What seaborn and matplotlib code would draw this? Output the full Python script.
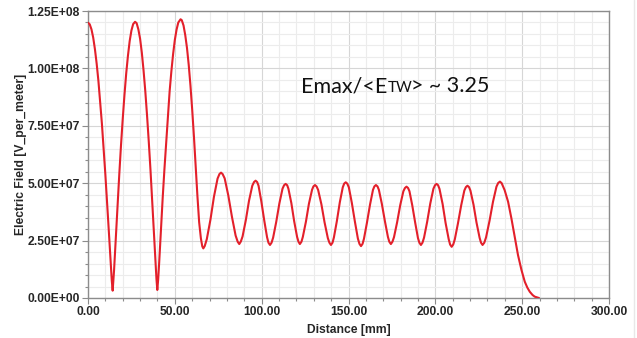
import numpy as np
import pandas as pd
import matplotlib
matplotlib.use("Agg")
import matplotlib.pyplot as plt
import seaborn as sns
from matplotlib.ticker import MultipleLocator, FuncFormatter
from matplotlib.transforms import offset_copy
from matplotlib.lines import Line2D

# Distance [mm] and |E| [1e6 V/m]
distance_mm = [
    0.0, 1.0, 2.0, 3.0, 4.0, 5.0, 6.0, 7.0, 8.0, 9.0, 10.0, 11.0, 12.0, 13.0, 13.7, 14.2, 14.7, 15.0,
    16.0, 17.0, 18.0, 19.0, 20.0, 21.0, 22.0, 23.0, 24.0, 25.0, 26.0, 27.1, 28.0, 29.0, 30.0, 31.0,
    32.0, 33.0, 34.0, 35.0, 36.0, 37.0, 38.0, 39.0, 39.4, 39.9, 40.4, 41.0, 42.0, 43.0, 44.0, 45.0,
    46.0, 47.0, 48.0, 49.0, 50.0, 51.0, 52.0, 53.3, 54.0, 55.0, 56.0, 57.0, 58.0, 59.0, 60.0, 61.0,
    62.0, 63.0, 64.0, 65.0, 65.8, 66.4, 67.2,
    68.4, 70.5, 72.5, 74.6, 75.7, 76.6, 77.5, 78.7, 80.8, 82.9, 85.0, 86.2, 87.1, 88.0,
    89.0, 90.9, 92.7, 94.6, 95.6, 96.5, 97.4, 98.2, 99.8, 101.5, 103.1, 103.9, 104.8, 105.7,
    106.6, 108.4, 110.2, 112.0, 112.9, 113.8, 114.7, 115.4, 117.1, 118.7, 120.4, 121.2, 122.0, 122.9,
    123.7, 125.5, 127.2, 129.0, 129.8, 130.7, 131.6, 132.5, 134.4, 136.2, 138.1, 139.0, 139.9, 140.8,
    141.6, 143.3, 145.0, 146.7, 147.5, 148.4, 149.3, 150.2, 151.9, 153.7, 155.4, 156.3, 157.2, 158.1,
    158.9, 160.6, 162.4, 164.1, 164.9, 165.8, 166.7, 167.5, 169.2, 171.0, 172.7, 173.5, 174.4, 175.3,
    176.2, 178.0, 179.8, 181.6, 182.5, 183.4, 184.3, 185.1, 186.7, 188.4, 190.0, 190.8, 191.7, 192.6,
    193.5, 195.3, 197.1, 198.9, 199.8, 200.7, 201.6, 202.4, 204.2, 205.9, 207.7, 208.5, 209.4, 210.3,
    211.2, 213.0, 214.9, 216.7, 217.6, 218.5, 219.4, 220.2, 222.0, 223.7, 225.5, 226.3, 227.2, 228.2,
    229.2, 231.2, 233.2, 235.2, 236.2, 237.2,
    238.2, 239.9, 241.9, 243.8, 245.7, 247.6, 249.6, 251.5, 253.0, 254.4, 256.0, 257.2, 259.7,
]
field_1e6 = [
    119.9, 119.2, 117.0, 113.4, 108.3, 102.0, 94.5, 85.5, 76.0, 65.0, 53.7, 41.6, 29.0, 16.0, 7.5, 3.2, 8.5, 12.0,
    26.0, 40.0, 53.7, 66.5, 78.0, 88.5, 97.8, 105.5, 111.9, 116.5, 119.3, 120.3, 119.7, 117.0, 112.9, 106.8,
    99.0, 90.0, 79.5, 68.0, 55.5, 41.9, 28.0, 14.0, 8.5, 3.5, 8.0, 15.6, 29.5, 43.5, 56.0, 67.5,
    79.6, 90.0, 98.7, 106.2, 112.4, 116.9, 120.0, 121.4, 121.0, 118.7, 114.5, 108.9, 101.5, 92.5, 82.0, 70.3,
    57.5, 44.5, 33.0, 26.0, 22.5, 21.6, 22.6,
    25.6, 34.1, 44.0, 52.0, 54.0, 54.6, 54.0, 52.1, 44.6, 35.3, 27.2, 24.5, 23.5, 24.6,
    26.8, 34.0, 42.3, 48.9, 50.5, 51.1, 50.5, 48.9, 42.1, 33.7, 26.5, 24.1, 23.1, 24.1,
    26.3, 33.2, 41.2, 47.6, 49.1, 49.7, 49.1, 47.6, 41.3, 33.5, 26.6, 24.5, 23.5, 24.5,
    26.6, 33.3, 41.0, 47.1, 48.6, 49.2, 48.6, 47.1, 40.8, 33.0, 26.1, 24.1, 23.1, 24.1,
    26.4, 33.5, 41.7, 48.2, 49.8, 50.4, 49.8, 48.2, 41.5, 33.2, 25.9, 23.6, 22.6, 23.6,
    25.8, 32.7, 40.7, 47.1, 48.6, 49.2, 48.6, 47.1, 41.0, 33.3, 26.6, 24.5, 23.5, 24.5,
    26.5, 33.0, 40.5, 46.5, 47.9, 48.5, 47.9, 46.5, 40.4, 32.8, 26.1, 24.1, 23.1, 24.1,
    26.3, 33.2, 41.2, 47.6, 49.1, 49.7, 49.1, 47.5, 40.9, 32.7, 25.6, 23.3, 22.3, 23.3,
    25.5, 32.4, 40.4, 46.8, 48.3, 48.9, 48.3, 46.8, 40.6, 32.9, 26.2, 24.1, 23.1, 24.1,
    26.4, 33.6, 41.9, 48.5, 50.1, 50.7,
    50.0, 47.0, 41.9, 34.7, 26.7, 18.7, 12.2, 7.1, 4.5, 2.7, 1.3, 0.6, 0.0,
]

X_TICKS_MAJOR = 50
Y_TICKS_MAJOR = 2.5e7

sns.set_style("white")
plt.rcParams["font.family"] = ["Liberation Sans", "DejaVu Sans"]

df = pd.DataFrame({"Distance": distance_mm, "Field": np.array(field_1e6) * 1e6})

fig = plt.figure(figsize=(6.37, 3.38), dpi=100)
ax = fig.add_axes([88 / 637, 40 / 338, 521 / 637, 287 / 338])

sns.lineplot(data=df, x="Distance", y="Field", ax=ax, color="#e3202b",
             linewidth=1.5, sort=False, zorder=3)

ax.set_xlim(0, 300)
ax.set_ylim(0, 1.25e8)
ax.xaxis.set_major_locator(MultipleLocator(X_TICKS_MAJOR))
ax.xaxis.set_minor_locator(MultipleLocator(10))
ax.yaxis.set_major_locator(MultipleLocator(Y_TICKS_MAJOR))
ax.yaxis.set_minor_locator(MultipleLocator(5e6))
ax.xaxis.set_major_formatter(FuncFormatter(lambda v, p: f"{v:.2f}"))
ax.yaxis.set_major_formatter(FuncFormatter(lambda v, p: f"{v:.2E}"))

ax.grid(which="major", color="#d6d6d6", linewidth=0.8)
ax.grid(which="minor", color="#ececec", linewidth=0.8)
ax.set_axisbelow(True)

for s in ax.spines.values():
    s.set_color("#8c8c8c")
    s.set_linewidth(1.0)

ax.tick_params(which="both", direction="out", bottom=True, left=True,
               color="#8c8c8c", width=0.8)
ax.tick_params(which="major", length=4, labelsize=8.7, pad=2)
ax.tick_params(which="minor", length=2.5)
for lab in ax.get_xticklabels() + ax.get_yticklabels():
    lab.set_fontweight("bold")

ax.set_xlabel("Distance [mm]", fontsize=8.7, fontweight="bold", labelpad=4)
ax.set_ylabel("Electric Field [V_per_meter]", fontsize=8.7, fontweight="bold", labelpad=0)

# annotation with small-caps "TW"
fig.canvas.draw()
r = fig.canvas.get_renderer()
x0, y0 = 122.6, 8.97e7
t1 = ax.text(x0, y0, "Emax/<E", fontsize=15.5, family="Lato", va="baseline", color="#111111")
w1 = t1.get_window_extent(r).width
t2 = ax.text(x0, y0, "TW", fontsize=11, family="Lato", va="baseline", color="#111111",
             transform=offset_copy(ax.transData, fig=fig, x=w1, y=0, units="dots"))
w2 = t2.get_window_extent(r).width
ax.text(x0, y0, "> ~ 3.25", fontsize=15.5, family="Lato", va="baseline", color="#111111",
        transform=offset_copy(ax.transData, fig=fig, x=w1 + w2 - 1, y=0, units="dots"))

fig.add_artist(Line2D([634 / 637, 634 / 637], [0, 1], transform=fig.transFigure,
                      color="#e8e8e8", linewidth=1))

fig.savefig("out.png", dpi=100)
